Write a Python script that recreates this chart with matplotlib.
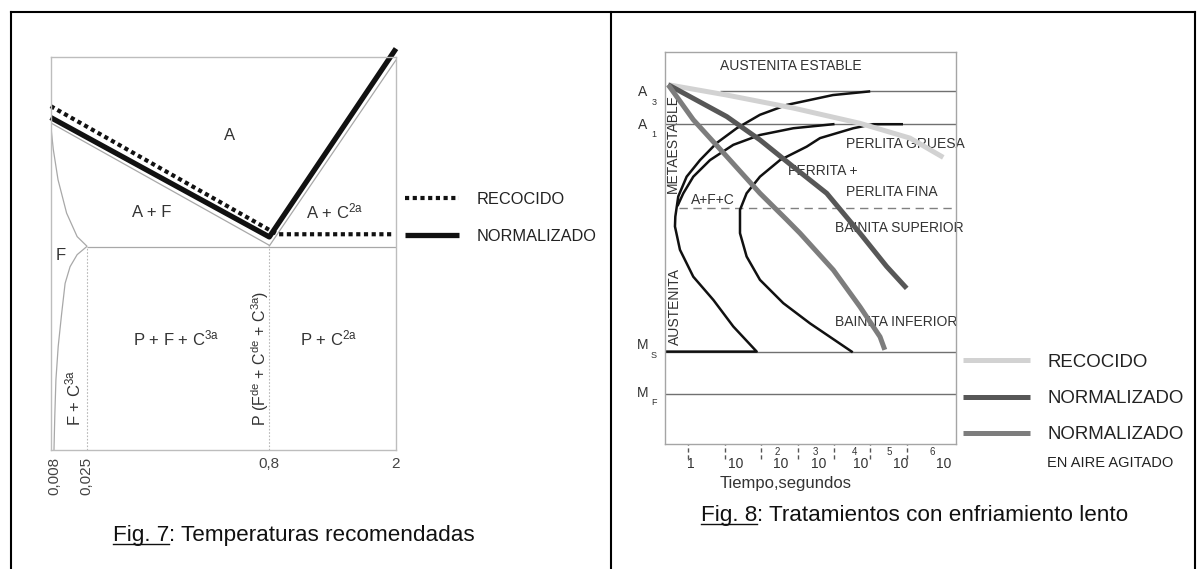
import numpy as np
import matplotlib
matplotlib.use("Agg")
import matplotlib.pyplot as plt
from matplotlib.lines import Line2D

W, H = 1204, 569

plt.rcParams['font.family'] = ['Liberation Sans', 'DejaVu Sans']
plt.rcParams['mathtext.fontset'] = 'custom'
plt.rcParams['mathtext.rm'] = 'Liberation Sans'
plt.rcParams['mathtext.default'] = 'regular'

# ---------------- Fig. 7: diagrama Fe-C ----------------
carbon_ticks = [0.008, 0.025, 0.8, 2]
carbon_tick_labels = ['0,008', '0,025', '0,8', '2']
# the carbon axis is stretched piecewise (not to scale)
carbon_breaks = [0, 0.008, 0.025, 0.8, 2.0]
carbon_span = [0, 3.5, 36, 218.6, 345.3]

eutectoid_T = 727
a3_c = [0, 0.8]
a3_T = [912, 729]
acm_c = [0.8, 2.0]
acm_T = [728, 1006]
af_c = [0, 0.006, 0.010, 0.0145, 0.020, 0.025]
af_T = [909, 872, 827, 777, 742, 728]
solvus_c = [0.025, 0.020, 0.0163, 0.0137, 0.0119, 0.0101, 0.0089, 0.0083, 0.0075]
solvus_T = [727, 715, 697, 672, 627, 578, 528, 473, 423]
recocido_c = [0, 0.80, 0.88, 1.97]
recocido_T = [937, 752, 745.5, 745.5]
normalizado_c = [0, 0.8, 2.0]
normalizado_T = [920, 741.5, 1023]

# ---------------- Fig. 8: curvas TTT ----------------
time_ticks = [1, 10, 1e2, 1e3, 1e4, 1e5, 1e6]
A3, A1, BAINITE_T, MS, MF = 800, 727, 540, 220, 125

start_t = [9.2e4, 9.4e3, 505, 93, 21.4, 6.0, 2.1, 0.90, 0.53, 0.44, 0.43, 0.59, 1.37, 4.9, 17.2, 75.7, 0.23]
start_T = [800, 792, 770, 748, 718, 685, 647, 610, 566, 521, 499, 447, 387, 335, 276, 220, 220]
ferrite_t = [9.6e3, 767, 93, 17.2, 3.95, 1.37, 0.73, 0.52]
ferrite_T = [727, 718, 703, 681, 647, 610, 573, 547]
finish_t = [7.3e5, 1.19e5, 3.4e4, 4150, 1790, 330, 93, 40, 26.3, 26.3, 40, 93, 407, 2200, 3.08e4]
finish_T = [727, 727, 718, 696, 677, 647, 610, 573, 536, 484, 432, 380, 328, 283, 220]

cool_recocido_t = [0.28, 11.4, 767, 5.2e4, 1.23e6, 1.01e7]
cool_recocido_T = [815, 792, 763, 729, 696, 653]
cool_normal_t = [0.28, 11.4, 93, 767, 6340, 5.2e4, 2.8e5, 1.0e6]
cool_normal_T = [815, 744, 692, 632, 573, 484, 410, 361]
cool_agitado_t = [0.28, 1.37, 11.4, 93, 505, 1170, 9640, 5.2e4, 1.85e5, 2.5e5]
cool_agitado_T = [815, 737, 655, 573, 514, 484, 402, 320, 253, 224]


def px_box(x0, y0, x1, y1):
    return [x0 / W, 1 - y1 / H, (x1 - x0) / W, (y1 - y0) / H]


fig = plt.figure(figsize=(W / 100, H / 100), dpi=100)

# page layer in pixel units: frame, labels, captions
ov = fig.add_axes([0, 0, 1, 1])
ov.set_xlim(0, W)
ov.set_ylim(H, 0)
ov.axis('off')

frame = dict(color='black', lw=1.5, solid_capstyle='projecting')
ov.plot([11, 1195], [11.7, 11.7], **frame)
for xf in (11, 611, 1195):
    ov.plot([xf, xf], [11.7, H + 2], **frame)

# ---- left panel ----
ax7 = fig.add_axes(px_box(50.7, 57.3, 396, 450))
ax7.patch.set_visible(False)
ax7.set_xscale('function', functions=(lambda c: np.interp(c, carbon_breaks, carbon_span),
                                      lambda u: np.interp(u, carbon_span, carbon_breaks)))
ax7.set_xlim(0, 2)
ax7.set_ylim(423, 1010)
for sp in ax7.spines.values():
    sp.set_color('#bdbdbd')
    sp.set_linewidth(1.0)
ax7.set_yticks([])
ax7.set_xticks(carbon_ticks)
ax7.set_xticklabels(carbon_tick_labels, fontsize=11, color='#444444')
ax7.tick_params(axis='x', length=0, pad=5)
for lbl in ax7.get_xticklabels()[:2]:
    lbl.set_rotation(90)

thin = dict(color='#a8a8a8', lw=0.9)
ax7.hlines(eutectoid_T, 0.025, 2, **thin)
ax7.plot(a3_c, a3_T, **thin)
ax7.plot(acm_c, acm_T, **thin)
ax7.plot(af_c, af_T, **thin)
ax7.plot(solvus_c, solvus_T, **thin)
ax7.vlines([0.025, 0.8], 423, eutectoid_T, colors='#b8b8b8', lw=0.8,
           linestyles=(0, (1.5, 1.5)))

rec7, = ax7.plot(recocido_c, recocido_T, color='#111111', lw=3.0,
                 linestyle=(0, (1, 0.85)), dash_capstyle='butt', clip_on=False)
nor7, = ax7.plot(normalizado_c, normalizado_T, color='#111111', lw=3.8,
                 solid_capstyle='butt', solid_joinstyle='round', clip_on=False)

ax7.legend([rec7, nor7], ['RECOCIDO', 'NORMALIZADO'], loc='center left',
           bbox_to_anchor=(405 / W, 1 - 217.8 / H), bbox_transform=fig.transFigure,
           frameon=False, fontsize=11.8, labelcolor='#222222',
           handlelength=3.3, handletextpad=1.04, labelspacing=1.32,
           borderpad=0, borderaxespad=0)

lab7 = dict(fontsize=12, color='#333333', ha='center', va='center')
ov.text(229.3, 135, 'A', **lab7)
ov.text(151.7, 212.7, 'A + F', **lab7)
ov.text(335, 211.7, 'A + C$^{2a}$', **lab7)
ov.text(60.5, 255.5, 'F', **lab7)
ov.text(176, 338.3, 'P + F + C$^{3a}$', **lab7)
ov.text(329, 338.3, 'P + C$^{2a}$', **lab7)
ov.text(73.3, 398, 'F + C$^{3a}$', rotation=90, **lab7)
ov.text(260, 358, 'P (F$^{de}$ + C$^{de}$ + C$^{3a}$)', rotation=90,
        fontsize=11.5, color='#333333', ha='center', va='center')

# ---- right panel ----
ax8 = fig.add_axes(px_box(665, 52, 956, 444))
ax8.patch.set_visible(False)
ax8.set_xscale('log')
ax8.set_xlim(0.229, 2.26e7)
ax8.set_ylim(14, 888)
ax8.set_xticks([])
ax8.set_xticks([], minor=True)
ax8.set_yticks([])
for sp in ax8.spines.values():
    sp.set_color('#a5a5a5')
    sp.set_linewidth(1.0)

level = dict(colors='#707070', lw=1.0)
ax8.hlines(A3, 7.4, 2.26e7, **level)
ax8.hlines([A1, MS, MF], 0.229, 2.26e7, **level)
ax8.hlines(BAINITE_T, 0.55, 2.26e7, colors='#808080', lw=1.0, linestyles=(0, (6, 4)))
ax8.vlines(time_ticks, -0.038, 0, transform=ax8.get_xaxis_transform(),
           colors='#555555', lw=1.0, linestyles=(0, (3, 2)), clip_on=False)

black = dict(color='#111111', lw=1.8, solid_joinstyle='round')
ax8.plot(start_t, start_T, **black)
ax8.plot(ferrite_t, ferrite_T, **black)
ax8.plot(finish_t, finish_T, **black)

gray = dict(lw=3.6, solid_capstyle='butt', solid_joinstyle='round')
l_rec, = ax8.plot(cool_recocido_t, cool_recocido_T, color='#d2d2d2', **gray)
l_nor, = ax8.plot(cool_normal_t, cool_normal_T, color='#575757', **gray)
l_agi, = ax8.plot(cool_agitado_t, cool_agitado_T, color='#7d7d7d', **gray)

ax8.legend([l_rec, l_nor, l_agi], ['RECOCIDO', 'NORMALIZADO', 'NORMALIZADO'],
           loc='center left', bbox_to_anchor=(963 / W, 1 - 398.5 / H),
           bbox_transform=fig.transFigure, frameon=False, fontsize=13.4,
           labelcolor='#222222', handlelength=3.6, handletextpad=0.96,
           labelspacing=1.03, borderpad=0, borderaxespad=0)
ov.text(1047, 463, 'EN AIRE AGITADO', fontsize=10.5, color='#222222', ha='left', va='center')

lab8 = dict(fontsize=10, color='#333333', va='center')
ov.text(791, 66, 'AUSTENITA ESTABLE', ha='center', **lab8)
ov.text(673, 143, 'METAESTABLE', ha='center', rotation=90, **lab8)
ov.text(675, 306, 'AUSTENITA', ha='center', rotation=90, **lab8)
ov.text(713, 200, 'A+F+C', ha='center', **lab8)
ov.text(846, 144, 'PERLITA GRUESA', ha='left', **lab8)
ov.text(788, 170.5, 'FERRITA +', ha='left', **lab8)
ov.text(846, 191.7, 'PERLITA FINA', ha='left', **lab8)
ov.text(835, 228.3, 'BAINITA SUPERIOR', ha='left', **lab8)
ov.text(835, 321.7, 'BAINITA INFERIOR', ha='left', **lab8)

# temperature marks on the left of the TTT box
for name, sub, yy in (('A', '3', 92), ('A', '1', 124.5), ('M', 'S', 345), ('M', 'F', 392.7)):
    ov.text(642.5, yy, name, fontsize=10, color='#333333', ha='center', va='center')
    ov.text(654, yy + 10, sub, fontsize=6.5, color='#333333', ha='center', va='center')

# time labels (exponent written ahead of the 10)
base_x = [690.7, 735.5, 780.7, 819, 860.7, 900.7, 944]
base_txt = ['1', '10', '10', '10', '10', '10', '10']
exp_x = [None, None, 777, 815, 855, 889, 932.7]
exp_txt = [None, None, '2', '3', '4', '5', '6']
for bx, bt, ex, et in zip(base_x, base_txt, exp_x, exp_txt):
    ov.text(bx, 464.3, bt, fontsize=10, color='#333333', ha='center', va='center')
    if et:
        ov.text(ex, 451.7, et, fontsize=7, color='#333333', ha='center', va='center')
ov.text(786, 483, 'Tiempo,segundos', fontsize=12, color='#333333', ha='center', va='center')

# captions with underlined figure number
renderer = fig.canvas.get_renderer()


def caption(x, y_base, head, tail, size):
    t1 = ov.text(x, y_base, head, fontsize=size, color='#111111', ha='left', va='baseline')
    bb = t1.get_window_extent(renderer)
    ov.text(bb.x1, y_base, tail, fontsize=size, color='#111111', ha='left', va='baseline')
    ov.plot([x, bb.x1], [y_base + 3, y_base + 3], color='#111111', lw=1.0)


caption(113, 540.5, 'Fig. 7', ': Temperaturas recomendadas', 16.2)
caption(701, 521, 'Fig. 8', ': Tratamientos con enfriamiento lento', 16.2)

fig.savefig('out.png', dpi=100)
